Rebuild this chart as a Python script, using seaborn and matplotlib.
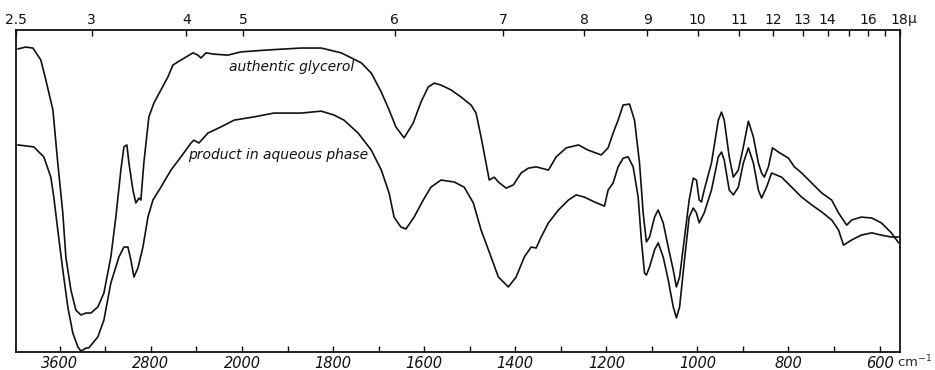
import numpy as np
import pandas as pd
import matplotlib
matplotlib.use("Agg")
import matplotlib.pyplot as plt
import seaborn as sns

# Infrared spectra: wavenumber (cm-1) and percent transmittance
glycerol_wn = [3969, 3900, 3837, 3767, 3723, 3661, 3618, 3574, 3547, 3503, 3459, 3415,
               3371, 3327, 3266, 3213, 3152, 3108, 3064, 3037, 3011, 2993, 2958, 2932,
               2905, 2888, 2862, 2818, 2774, 2712, 2651, 2607, 2563, 2492, 2431, 2387,
               2360, 2316, 2246, 2123, 2009, 1943, 1870, 1826, 1782, 1738, 1716, 1694,
               1677, 1662, 1644, 1624, 1607, 1591, 1578, 1563, 1541, 1519, 1497, 1486,
               1475, 1464, 1457, 1446, 1437, 1420, 1404, 1387, 1371, 1354, 1327, 1310,
               1288, 1261, 1240, 1211, 1196, 1185, 1174, 1163, 1149, 1138, 1127, 1119,
               1112, 1105, 1094, 1086, 1075, 1064, 1053, 1046, 1039, 1029, 1018, 1009,
               1002, 996, 991, 985, 969, 954, 947, 941, 930, 921, 910, 899, 888, 877,
               866, 859, 853, 844, 835, 822, 800, 787, 771, 749, 727, 705, 690, 672,
               661, 640, 617, 596, 574, 558]
glycerol_t = [94.1, 94.7, 94.4, 90.7, 84.5, 75.2, 58.7, 43.2, 29.5, 19.3, 13.0, 11.5,
              12.1, 12.1, 14.0, 18.3, 29.5, 41.9, 56.5, 63.7, 64.3, 58.7, 50.3, 46.3,
              47.8, 47.2, 58.7, 73.0, 77.3, 81.4, 85.4, 89.1, 90.1, 91.6, 92.9, 92.2,
              91.3, 92.9, 92.5, 92.2, 93.2, 93.8, 94.4, 94.4, 92.9, 89.8, 86.6, 80.7,
              75.2, 69.9, 66.5, 71.1, 77.6, 82.3, 83.5, 82.9, 81.4, 79.2, 76.7, 74.2,
              66.8, 58.7, 53.4, 54.3, 52.8, 50.9, 51.9, 55.6, 57.1, 57.5, 56.5, 60.6,
              63.4, 64.3, 62.7, 61.2, 63.4, 68.0, 72.0, 76.7, 77.0, 72.0, 58.7, 43.2,
              34.2, 35.7, 41.9, 44.1, 40.1, 32.6, 25.5, 20.2, 23.3, 34.8, 47.2, 54.0,
              53.4, 47.2, 46.6, 50.3, 58.7, 72.0, 74.5, 72.0, 60.6, 54.3, 56.5, 63.7,
              71.7, 66.8, 58.7, 55.6, 54.3, 57.5, 63.4, 62.1, 60.2, 57.5, 55.6, 52.5,
              49.4, 47.2, 43.2, 39.4, 41.0, 41.9, 41.6, 40.1, 37.0, 33.9]

product_wn = [3969, 3829, 3741, 3679, 3653, 3618, 3574, 3530, 3486, 3442, 3415, 3371,
              3345, 3266, 3213, 3152, 3081, 3037, 3002, 2976, 2949, 2914, 2870, 2826,
              2782, 2712, 2624, 2536, 2448, 2422, 2378, 2299, 2185, 2070, 1974, 1930,
              1870, 1826, 1798, 1776, 1745, 1716, 1694, 1677, 1666, 1651, 1640, 1622,
              1602, 1585, 1563, 1534, 1512, 1492, 1475, 1453, 1437, 1415, 1398, 1380,
              1365, 1354, 1343, 1327, 1305, 1283, 1266, 1248, 1226, 1204, 1196, 1185,
              1174, 1163, 1152, 1141, 1130, 1123, 1116, 1112, 1105, 1094, 1086, 1075,
              1064, 1053, 1046, 1039, 1029, 1018, 1009, 1002, 996, 985, 969, 954, 947,
              941, 930, 921, 910, 899, 888, 877, 866, 859, 848, 837, 815, 793, 771,
              749, 727, 705, 690, 679, 661, 640, 617, 596, 574, 558]
product_t = [64.3, 63.7, 60.6, 54.3, 48.1, 37.9, 25.5, 14.0, 5.9, 1.6, 0.3, 1.2,
             1.3, 4.7, 9.9, 21.4, 29.5, 32.6, 32.6, 28.6, 23.3, 26.1, 32.6, 41.9,
             47.2, 51.2, 56.5, 60.6, 64.9, 65.8, 64.9, 68.0, 69.9, 72.0, 73.0, 74.2,
             74.2, 74.8, 73.6, 72.0, 68.0, 62.7, 56.5, 49.4, 41.9, 38.8, 38.2, 41.9,
             47.2, 51.2, 53.4, 52.8, 51.2, 46.3, 37.9, 29.5, 23.3, 20.2, 23.3, 29.5,
             32.6, 32.3, 35.7, 40.1, 44.1, 47.2, 48.8, 48.1, 46.6, 45.3, 50.3, 52.5,
             57.5, 60.2, 60.6, 57.5, 48.1, 34.8, 24.5, 23.9, 26.4, 31.7, 33.9, 29.5,
             22.4, 14.0, 10.6, 14.0, 27.6, 41.9, 44.7, 43.2, 40.1, 43.2, 50.3, 60.6, 62.1,
             59.6, 50.3, 48.8, 51.2, 58.7, 63.4, 58.7, 50.3, 47.8, 51.2, 55.6, 54.3, 51.2, 48.1,
             45.7, 43.5, 41.0, 37.9, 33.2, 34.8, 36.3, 37.0, 36.3, 35.7, 35.7]

series_names = ["authentic glycerol", "product in aqueous phase"]

wn_ticks = [3600, 3200, 2800, 2400, 2000, 1900, 1800, 1700, 1600, 1500, 1400, 1300,
            1200, 1100, 1000, 900, 800, 700, 600]
wn_labels = ["3600", "", "2800", "", "2000", "", "1800", "", "1600", "", "1400", "",
             "1200", "", "1000", "", "800", "", "600"]
micron_ticks = [2.5, 3, 4, 5, 6, 7, 8, 9, 10, 11, 12, 13, 14, 15, 16, 17, 18]
micron_labels = ["2.5", "3", "4", "5", "6", "7", "8", "9", "10", "11", "12", "13",
                 "14", "", "16", "", "18"]

df = pd.concat([
    pd.DataFrame({"wn": glycerol_wn, "T": glycerol_t, "sample": series_names[0]}),
    pd.DataFrame({"wn": product_wn, "T": product_t, "sample": series_names[1]}),
], ignore_index=True)


# Grating chart: 400 cm-1 per division above 2000, 100 cm-1 per division below
def wn_forward(w):
    w = np.asarray(w, dtype=float)
    return np.where(w <= 2000, (2000 - w) / 100.0, (2000 - w) / 400.0)


def wn_inverse(p):
    p = np.asarray(p, dtype=float)
    return np.where(p >= 0, 2000 - 100.0 * p, 2000 - 400.0 * p)


WN_LIMITS = (555, 3985)

sns.set_theme(style="white")
plt.rcParams["font.family"] = ["DejaVu Sans"]

fig = plt.figure(figsize=(9.35, 3.7), dpi=100)
ax = fig.add_axes([16 / 935, 18 / 370, 884 / 935, 322 / 370])

sns.lineplot(data=df, x="wn", y="T", hue="sample", units="sample", estimator=None,
             sort=False, palette=["#111111", "#111111"], linewidth=1.2,
             legend=False, ax=ax)

ax.set_xscale("function", functions=(wn_forward, wn_inverse))
ax.set_xlim(*WN_LIMITS)
ax.set_ylim(0, 100)
ax.set_xlabel("")
ax.set_ylabel("")
ax.set_yticks([])
ax.set_xticks(wn_ticks)
ax.set_xticklabels(wn_labels, fontsize=10.5, fontstyle="italic")
ax.xaxis.set_minor_locator(matplotlib.ticker.NullLocator())
ax.tick_params(axis="x", direction="in", length=4, width=1.0, pad=3, colors="#111111",
               bottom=True, top=False)
for s in ax.spines.values():
    s.set_visible(True)
    s.set_color("#111111")
    s.set_linewidth(1.3)

# Wavelength scale along the top
top = ax.twiny()
top.set_xscale("function", functions=(wn_forward, wn_inverse))
top.set_xlim(*WN_LIMITS)
top.set_xticks([1e4 / m for m in micron_ticks])
top.set_xticklabels(micron_labels, fontsize=10)
top.xaxis.set_minor_locator(matplotlib.ticker.NullLocator())
top.tick_params(axis="x", direction="in", length=4, width=1.0, pad=2, colors="#111111")
for s in top.spines.values():
    s.set_visible(False)

# Units beside the last tick labels
ax.annotate("cm$^{-1}$", xy=(600, 0), xycoords=("data", "axes fraction"),
            xytext=(12.5, -10.8), textcoords="offset points", fontsize=9.5,
            ha="left", va="baseline")
ax.annotate("\u03bc", xy=(1e4 / 18, 1), xycoords=("data", "axes fraction"),
            xytext=(6, 8), textcoords="offset points", fontsize=10,
            ha="left", va="center")

ax.text(1892, 88.5, series_names[0], fontsize=10, fontstyle="italic",
        ha="center", va="center", color="#111111")
ax.text(1921, 61.2, series_names[1], fontsize=10, fontstyle="italic",
        ha="center", va="center", color="#111111")

fig.savefig("out.png", dpi=100, facecolor="white")
